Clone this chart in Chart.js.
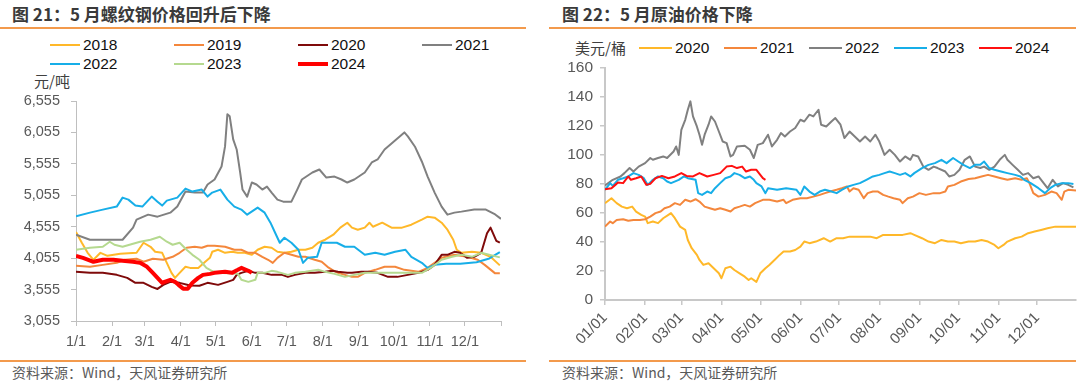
<!DOCTYPE html>
<html>
<head>
<meta charset="utf-8">
<script src="https://cdn.jsdelivr.net/npm/chart.js@4.4.1/dist/chart.umd.min.js"></script>
<style>
  body { margin: 0; background: #fff; }
  #page { position: relative; width: 1080px; height: 386px; overflow: hidden; font-family: "Liberation Sans", Arial, sans-serif; }
  .title { position: absolute; top: 3px; font: bold 17px "Noto Sans CJK SC"; color: #3a3a3a; line-height: 22px; white-space: nowrap; }
  .rule { position: absolute; height: 2px; background: #F39A4C; }
  .source { position: absolute; top: 363px; font: 14px "Noto Sans CJK SC"; color: #595959; line-height: 18px; white-space: nowrap; }
  .unit { position: absolute; font: 15px "Noto Sans CJK SC"; color: #404040; line-height: 18px; white-space: nowrap; }
  .item { position: absolute; height: 18px; line-height: 18px; font: 15.5px "Liberation Sans"; color: #111; white-space: nowrap; }
  .item i { position: absolute; left: 0; width: 30px; }
  .item span { position: absolute; top: 0; }
  canvas { position: absolute; }
</style>
</head>
<body>
<div id="page">
  <div class="title" style="left:12px">图 21：5 月螺纹钢价格回升后下降</div>
  <div class="rule" style="left:0;top:27px;width:526px"></div>
  <div class="title" style="left:562px">图 22：5 月原油价格下降</div>
  <div class="rule" style="left:549px;top:27px;width:527px"></div>

  <div class="unit" style="left:34px;top:72px">元/吨</div>
  <div class="unit" style="left:575px;top:39px">美元/桶</div>
  <div id="legendLeft"></div>
  <div id="legendRight"></div>

  <canvas id="rebarChart" width="520" height="270" style="left:0;top:90px"></canvas>
  <canvas id="oilChart" width="540" height="300" style="left:540px;top:60px"></canvas>

  <div class="rule" style="left:0;top:360px;width:526px"></div>
  <div class="source" style="left:12px">资料来源：Wind，天风证券研究所</div>
  <div class="rule" style="left:549px;top:360px;width:527px"></div>
  <div class="source" style="left:562px">资料来源：Wind，天风证券研究所</div>
</div>

<script>
// ---- rebar (元/吨), x = day of year ----
const rebarYears = ['2018', '2019', '2020', '2021', '2022', '2023', '2024'];
const rebarTicks = [3055, 3555, 4055, 4555, 5055, 5555, 6055, 6555];
const rebarTickDays = [0, 31, 59, 90, 120, 151, 181, 212, 243, 273, 304, 334, 365];
const rebarTickLabels = ['1/1', '2/1', '3/1', '4/1', '5/1', '6/1', '7/1', '8/1', '9/1', '10/1', '11/1', '12/1', ''];

const rebar2018Days = [0,5,10,15,21,27,38,52,58,64,68,74,78,82,85,89,94,98,105,111,115,117,122,128,134,139,145,151,156,162,168,173,179,185,191,197,203,208,214,221,227,233,237,242,248,252,255,263,271,280,288,297,302,308,314,319,324,327,331,340,348,356,364];
const rebar2018 = [4470,4300,4140,4029,4140,4092,4124,4140,4300,4236,4156,4140,3980,3821,3741,3821,3917,3900,3900,3997,4060,4156,4188,4140,4156,4140,4140,4108,4188,4236,4220,4156,4140,4156,4188,4188,4220,4300,4348,4428,4540,4619,4540,4507,4540,4619,4555,4619,4540,4540,4587,4667,4715,4699,4619,4507,4348,4188,4140,4156,4140,4076,3940];

const rebar2019Days = [0,12,23,35,42,52,58,66,75,83,89,95,102,108,113,119,128,136,142,148,154,160,165,169,173,179,185,191,197,205,211,216,220,225,231,237,242,248,257,265,274,282,294,302,314,325,336,345,351,360,364];
const rebar2019 = [3933,3917,3948,3980,4029,4045,3997,4045,4029,4076,4140,4220,4236,4220,4252,4252,4236,4188,4188,4140,4140,4076,4029,3980,4060,4140,4108,4076,4076,4029,3997,3917,3869,3821,3789,3757,3757,3821,3869,3917,3917,3869,3837,3900,4060,4108,4076,4029,3948,3813,3813];

const rebar2020Days = [0,12,23,35,44,51,58,65,70,75,81,89,98,106,113,122,130,135,138,142,148,154,160,168,177,182,188,197,205,214,220,225,233,237,245,251,259,268,276,285,294,302,308,314,319,325,330,336,342,348,353,356,361,364];
const rebar2020 = [3837,3821,3821,3789,3741,3662,3662,3598,3565,3630,3678,3662,3620,3615,3662,3630,3678,3710,3789,3821,3853,3821,3821,3789,3789,3757,3789,3821,3821,3837,3853,3837,3821,3821,3837,3837,3821,3757,3757,3789,3821,3869,3948,4108,4108,4156,4140,4060,4076,4140,4450,4540,4330,4300];

const rebar2021Days = [0,12,40,49,52,62,70,81,87,94,102,109,113,119,125,128,130,132,135,138,141,143,147,151,155,160,164,168,173,178,185,190,194,203,209,215,222,228,233,239,248,254,259,265,272,278,282,285,291,297,302,308,314,319,325,331,342,352,360,365];
const rebar2021 = [4428,4348,4348,4540,4667,4747,4715,4779,4875,5114,5098,5098,5226,5306,5513,5832,6343,6311,5944,5784,5417,5146,5034,5258,5226,5146,5194,5098,4986,4954,4954,5146,5306,5417,5465,5337,5353,5306,5258,5306,5417,5577,5625,5784,5896,5992,6055,5992,5832,5593,5353,5098,4875,4747,4779,4795,4830,4827,4750,4680];

const rebar2022Days = [0,12,23,35,40,45,51,57,65,70,74,78,87,94,100,108,113,117,124,130,136,142,147,156,162,167,171,175,179,185,191,195,199,207,211,216,224,231,239,248,257,265,274,283,288,297,302,308,318,330,344,355,364];
const rebar2022 = [4720,4779,4827,4875,5018,4986,4891,4875,5034,4954,4891,4970,5018,5162,5114,5146,5034,5098,5146,4986,4875,4827,4747,4859,4779,4619,4459,4300,4380,4300,4188,3980,4060,4076,4300,4300,4300,4236,4236,4108,4140,4108,4156,4188,4076,3980,3900,3948,3965,3965,3990,4050,4150];

const rebar2023Days = [0,12,23,29,33,40,49,55,64,72,78,83,89,95,100,106,112,117,122,139,142,148,154,156,162,168,173,182,188,197,208,214,222,231,239,248,259,271,282,297,306,314,323,331,340,348,364];
const rebar2023 = [4188,4220,4236,4316,4268,4236,4284,4316,4348,4396,4316,4268,4300,4188,4108,4029,3900,3850,3821,3805,3710,3678,3710,3821,3821,3853,3837,3789,3821,3837,3869,3837,3805,3757,3789,3821,3821,3821,3821,3821,3917,4029,4076,4108,4076,4140,4067];

const rebar2024Days = [0,6,15,23,32,40,49,55,61,66,70,74,76,81,85,88,92,96,100,105,109,115,119,128,134,139,142,148,151];
const rebar2024 = [4092,4060,3997,4029,4029,4013,3997,3980,3917,3821,3741,3662,3678,3710,3678,3630,3570,3570,3662,3741,3789,3805,3821,3837,3821,3869,3900,3853,3821];

// ---- crude oil (美元/桶) ----
const oilYears = ['2020', '2021', '2022', '2023', '2024'];
const oilTickDays = [0, 31, 59, 90, 120, 151, 181, 212, 243, 273, 304, 334];
const oilTickLabels = ['01/01', '02/01', '03/01', '04/01', '05/01', '06/01', '07/01', '08/01', '09/01', '10/01', '11/01', '12/01'];

const oil2020Days = [0,5,9,13,17,21,24,28,31,33,37,41,45,49,51,54,58,62,64,67,71,73,76,80,84,88,90,93,97,100,104,108,111,113,117,120,124,127,131,135,138,143,147,151,154,158,163,169,174,179,184,189,194,200,205,210,215,220,225,230,236,239,245,250,255,260,265,270,275,281,286,291,296,301,304,308,311,317,322,327,332,337,342,348,353,358,364];
const oil2020 = [66.8,70.2,66.8,64.4,63.3,64.4,61,58.7,57.5,53,54.1,53,56.4,58.7,59.9,56.4,50.6,48.3,41.4,35.7,31.1,27.6,24.2,25.3,21.9,18.4,15,21.9,23,20.7,18.4,16.1,13.8,15,12.5,18.4,21.9,24.2,27.6,31.1,33.4,33.4,34.5,36.8,40.3,39.2,40.3,42.6,40.3,42.6,42.6,43.7,43.7,43.7,43.7,42.6,44.9,44.9,44.9,44.9,46.1,44.9,42.6,40.3,39.2,41.4,40.3,40.3,39.2,40.3,40.3,41.4,40.3,38,35.7,38,40.3,42.6,43.7,46.1,47.2,48.3,49.5,50.6,50.6,50.6,50.5];

const oil2021Days = [0,4,6,9,14,18,22,27,31,35,39,43,46,50,54,58,62,66,70,73,77,81,85,89,93,97,100,104,108,112,116,122,127,133,138,140,145,151,156,161,166,170,174,179,183,187,189,192,196,200,203,207,211,215,219,223,228,230,234,238,243,248,254,259,263,265,270,275,281,286,291,296,301,306,311,317,322,326,328,331,335,340,345,349,353,355,358,364];
const oil2021 = [50.6,54.1,53,55.2,55.7,54.6,55.2,55.2,55.7,57.5,59.9,61,63.3,64.4,66.8,65.6,69.1,67.9,69.5,67.9,64.4,63.3,62.2,63.3,62.2,61,63.3,64.4,65.6,64.4,66.8,69.1,69.1,67.9,69.1,66.8,69.1,70.2,70.2,71.3,72.5,73.7,74.8,76,77.1,78.3,74.8,77.1,76,70.2,73.7,74.8,74.8,72.5,71.3,70.2,69.1,66.8,70.2,71.3,73.7,72.5,73.7,73.7,74.8,78.3,79.4,81.7,83.4,84,85.2,86.3,85.2,84,82.9,84,82.9,84,80.6,73.7,71.3,72.5,74.8,73.7,69.1,74.8,76,75.5];

const oil2022Days = [0,6,12,15,19,22,26,31,35,37,41,45,48,53,55,57,59,62,64,66,68,71,73,75,77,80,82,85,88,91,94,97,99,102,108,112,115,118,122,126,129,133,136,139,143,147,151,154,158,161,165,167,171,175,178,182,185,189,193,197,201,205,209,212,216,220,224,228,232,236,238,242,246,250,254,257,263,266,270,274,278,282,286,290,293,297,301,305,309,311,315,319,323,327,331,335,339,342,346,350,354,358,362];
const oil2022 = [79,82.9,85.2,87.5,91,88.6,92,94.4,97.9,96.7,97.9,99,97.9,102.4,105.9,100.1,117.4,124.3,131.2,137,126.6,119.7,114,107,114,120.9,126.6,123.1,116.2,109.3,108.2,99,100.1,105.9,106.4,103.6,97.9,107,108.2,114,105.9,110.5,115.1,112.8,116.2,118.6,124.3,123.1,127.8,126.6,131.2,120.9,119.7,123.1,125.5,120.9,111.7,116.2,112.8,109.3,112.8,109.3,114,109.3,100.1,103.6,100.1,95.5,99,96.7,100.1,99,92,89.8,92,91,88.6,85.2,86.3,89.8,96.7,99,92,91,92,89.8,92,96.7,100.1,96.7,93.2,89.8,86.3,87.5,84,85.2,80.6,77.1,82.9,78.3,80.6,79.4,77.7];

const oil2023Days = [0,4,6,10,14,18,22,26,30,33,37,41,45,48,51,57,61,64,70,72,75,79,82,85,89,93,97,100,104,108,112,115,117,121,124,126,133,140,148,151,154,158,162,166,170,175,179,183,188,192,197,202,207,212,216,220,224,228,232,236,239,245,250,255,260,264,269,273,277,282,286,290,293,297,301,306,311,317,321,324,329,335,340,344,348,353,358,362];
const oil2023 = [76,80.6,78.7,82.9,84,85.2,87.5,86.3,84,79.4,82.9,85.2,84,81.7,80.6,82.9,85.2,84,82.9,73.7,72.5,74.8,73.7,77.1,80.6,84,85.2,87.5,86.3,84,85.2,82.9,80.6,78.3,73.7,77.1,76,77.1,76,72.5,78.3,74.8,72.5,74.8,76,74.8,73.7,76,78.3,79.4,80.6,82.9,85.2,86.3,87.5,88.6,87.5,86.3,87.5,85.2,87.5,91,93.2,94.4,96.7,94.4,97.9,95.5,93.2,91,93.2,93.2,95.5,91,89.8,88.6,87.5,86.3,85.2,82.9,80.6,77.1,73.7,77.1,79.4,80.6,80.6,80];

const oil2024Days = [0,5,8,10,14,18,20,24,28,32,35,39,44,49,54,59,63,68,73,79,84,89,94,98,102,106,109,113,117,120,122,124];
const oil2024 = [76.4,77.1,79.4,81,80.6,85.2,82.9,84,85.2,79.4,80.1,84,85.6,84,85.2,87.5,85.6,85.2,87.5,85.2,86.3,87.5,92,92.5,91,92,88.6,89.8,89.8,86.3,84,82.9];

// styles
const rebarColors = ['#FFB829', '#F4873C', '#7F0A0A', '#808080', '#17AEE8', '#B5D98F', '#FF0000'];
const rebarWidths = [2, 2, 2, 2, 2, 2, 4];
const oilColors = ['#FFB829', '#F4873C', '#808080', '#17AEE8', '#FF1010'];

const pts = (days, vals) => days.map((d, i) => ({ x: d, y: vals[i] }));

const rebarSeries = [
  pts(rebar2018Days, rebar2018), pts(rebar2019Days, rebar2019), pts(rebar2020Days, rebar2020),
  pts(rebar2021Days, rebar2021), pts(rebar2022Days, rebar2022), pts(rebar2023Days, rebar2023),
  pts(rebar2024Days, rebar2024)
];
const oilSeries = [
  pts(oil2020Days, oil2020), pts(oil2021Days, oil2021), pts(oil2022Days, oil2022),
  pts(oil2023Days, oil2023), pts(oil2024Days, oil2024)
];

// html legends
function addLegendItem(box, name, color, width, left, top, lineW, gap) {
  const el = document.createElement('div');
  el.className = 'item';
  el.style.left = left + 'px';
  el.style.top = (top - 9) + 'px';
  el.innerHTML = '<i style="width:' + lineW + 'px;height:' + width + 'px;top:' + (9 - width / 2) + 'px;background:' + color + '"></i>' +
    '<span style="left:' + (lineW + gap) + 'px">' + name + '</span>';
  box.appendChild(el);
}
const legL = document.getElementById('legendLeft');
rebarYears.forEach((y, i) => {
  addLegendItem(legL, y, rebarColors[i], rebarWidths[i] === 4 ? 4 : 2, 50 + (i % 4) * 124, i < 4 ? 45 : 64, 30, 3);
});
const legR = document.getElementById('legendRight');
oilYears.forEach((y, i) => {
  addLegendItem(legR, y, oilColors[i], 2, 639 + i * 85, 48, 33, 3);
});

const tickFont = { family: '"Liberation Sans", Arial, sans-serif', size: 14.5 };

// fixed axis sizes so the plot areas sit where the reference has them
const fixY = w => s => { s.width = w; s.paddingTop = 0; s.paddingBottom = 0; };

new Chart(document.getElementById('rebarChart'), {
  type: 'line',
  data: {
    datasets: rebarSeries.map((data, i) => ({
      label: rebarYears[i],
      data,
      borderColor: rebarColors[i],
      borderWidth: rebarWidths[i],
      pointRadius: 0,
      tension: 0,
      borderJoinStyle: 'round',
      order: rebarSeries.length - i
    }))
  },
  options: {
    responsive: false,
    animation: false,
    layout: { padding: { top: 11, right: 19, left: 0, bottom: 0 } },
    plugins: { legend: { display: false }, tooltip: { enabled: false } },
    scales: {
      x: {
        type: 'linear', min: 0, max: 365,
        afterBuildTicks: s => { s.ticks = rebarTickDays.map(v => ({ value: v })); },
        afterFit: s => { s.height = 39; },
        ticks: {
          autoSkip: false, maxRotation: 0, padding: 7, color: '#595959', font: tickFont,
          callback: (v, i) => rebarTickLabels[i]
        },
        grid: { drawOnChartArea: false, tickLength: 5, color: '#BFBFBF' },
        border: { color: '#BFBFBF', width: 1 }
      },
      y: {
        min: 3055, max: 6555,
        afterBuildTicks: s => { s.ticks = rebarTicks.map(v => ({ value: v })); },
        afterFit: fixY(76),
        ticks: {
          padding: 11, color: '#595959', font: tickFont,
          callback: v => v.toLocaleString('en-US')
        },
        grid: { drawOnChartArea: false, tickLength: 5, color: '#BFBFBF' },
        border: { color: '#BFBFBF', width: 1 }
      }
    }
  }
});

new Chart(document.getElementById('oilChart'), {
  type: 'line',
  data: {
    datasets: oilSeries.map((data, i) => ({
      label: oilYears[i],
      data,
      borderColor: oilColors[i],
      borderWidth: 2,
      pointRadius: 0,
      tension: 0,
      borderJoinStyle: 'round',
      order: oilSeries.length - i
    }))
  },
  options: {
    responsive: false,
    animation: false,
    layout: { padding: { top: 8, right: 4, left: 0, bottom: 0 } },
    plugins: { legend: { display: false }, tooltip: { enabled: false } },
    scales: {
      x: {
        type: 'linear', min: 0, max: 364,
        afterBuildTicks: s => { s.ticks = oilTickDays.map(v => ({ value: v })); },
        afterFit: s => { s.height = 60; },
        ticks: {
          autoSkip: false, minRotation: 45, maxRotation: 45, padding: 4, color: '#595959',
          font: { family: '"Liberation Sans", Arial, sans-serif', size: 15 },
          callback: (v, i) => oilTickLabels[i]
        },
        grid: { drawOnChartArea: false, tickLength: 5, color: '#C8C8C8', lineWidth: 1.5 },
        border: { color: '#C8C8C8', width: 2 }
      },
      y: {
        min: 0, max: 160,
        afterFit: fixY(65),
        ticks: {
          stepSize: 20, padding: 7, color: '#595959',
          font: { family: '"Liberation Sans", Arial, sans-serif', size: 15.5 }
        },
        grid: { drawOnChartArea: false, tickLength: 5, color: '#C8C8C8', lineWidth: 1.5 },
        border: { color: '#C8C8C8', width: 2 }
      }
    }
  }
});
</script>
</body>
</html>
